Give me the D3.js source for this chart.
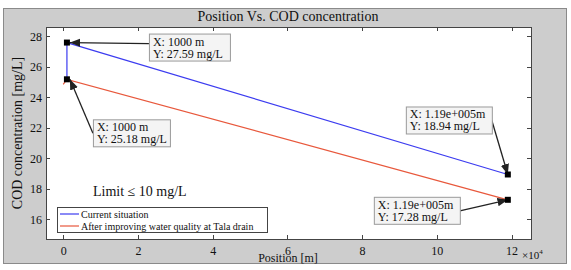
<!DOCTYPE html>
<meta charset="utf-8">
<style>
body { margin: 0; background: #fff; }
text { font-family: "Liberation Serif", "DejaVu Serif", serif; fill: #111; }
.axis path, .axis line { fill: none; stroke: #444; shape-rendering: crispEdges; }
.tick text { font-size: 12px; }
</style>
<svg width="571" height="270"></svg>
<script src="https://d3js.org/d3.v7.min.js"></script>
<script>
// values
var xTicks = [0, 2, 4, 6, 8, 10, 12];          // x 10^4 m
var yTicks = [16, 18, 20, 22, 24, 26, 28];
var currentX = [1000, 1000, 119000];
var currentY = [25.18, 27.59, 18.94];
var improvedX = [0, 1000, 119000];
var improvedY = [24.85, 25.18, 17.28];
var seriesNames = ["Current situation", "After improving water quality at Tala drain"];
var tipX = [1000, 1000, 119000, 119000];
var tipY = [27.59, 25.18, 18.94, 17.28];
var tipLabelX = ["X: 1000 m", "X: 1000 m", "X: 1.19e+005m", "X: 1.19e+005m"];
var tipLabelY = ["Y: 27.59 mg/L", "Y: 25.18 mg/L", "Y: 18.94 mg/L", "Y: 17.28 mg/L"];

var svg = d3.select("svg");
var margin = {top: 27, right: 40, bottom: 31, left: 46},
  width = 571 - margin.left - margin.right,
  height = 270 - margin.top - margin.bottom;

// figure frame
svg.append("rect").attr("x", 3.5).attr("y", 8.5).attr("width", 563).attr("height", 255)
  .attr("fill", "#cdcdcd").attr("stroke", "#8a8a8a");

var x = d3.scaleLinear().domain([-4600, 125200]).range([0, width]);
var y = d3.scaleLinear().domain([14.71, 28.61]).range([height, 0]);
var color = ["#3c3cf0", "#e8583c"];

var g = svg.append("g").attr("transform", "translate(" + margin.left + "," + margin.top + ")");
g.append("rect").attr("width", width).attr("height", height).attr("fill", "#fff");

var tx = xTicks.map(function(d) { return d * 1e4; });
g.append("g").attr("class", "axis").attr("transform", "translate(0," + height + ")")
  .call(d3.axisBottom(x).tickValues(tx).tickSizeInner(-4).tickSizeOuter(0).tickPadding(7)
    .tickFormat(function(d) { return d / 1e4; }));
g.append("g").attr("class", "axis")
  .call(d3.axisTop(x).tickValues(tx).tickSizeInner(-4).tickSizeOuter(0).tickFormat(""));
g.append("g").attr("class", "axis")
  .call(d3.axisLeft(y).tickValues(yTicks).tickSizeInner(-4).tickSizeOuter(0).tickPadding(4));
g.append("g").attr("class", "axis").attr("transform", "translate(" + width + ",0)")
  .call(d3.axisRight(y).tickValues(yTicks).tickSizeInner(-4).tickSizeOuter(0).tickFormat(""));
g.append("rect").attr("x", 0.5).attr("y", 0.5).attr("width", width).attr("height", height)
  .attr("fill", "none").attr("stroke", "#444");

var line = d3.line().x(function(d) { return x(d[0]); }).y(function(d) { return y(d[1]); });
var series = [d3.zip(currentX, currentY), d3.zip(improvedX, improvedY)];
series.forEach(function(s, i) {
  g.append("path").datum(s).attr("d", line).attr("fill", "none")
    .attr("stroke", color[i]).attr("stroke-width", 1.2);
});

// data tips
svg.append("defs").append("marker").attr("id", "ah").attr("viewBox", "0 0 10 10")
  .attr("refX", 10).attr("refY", 5).attr("markerWidth", 8).attr("markerHeight", 8)
  .attr("orient", "auto").append("path").attr("d", "M0,1L10,5L0,9Z").attr("fill", "#222");

var boxOff = [[82, -9], [26, 40], [-102, -68], [-134, -3]];   // box top-left relative to point
var boxW = [81, 77, 86, 86];
var anchor = [[0, 10], [0, 14], [86, 14], [86, 14]];
tipX.forEach(function(d, i) {
  var px = x(d), py = y(tipY[i]);
  var bx = px + boxOff[i][0], by = py + boxOff[i][1];
  g.append("line").attr("x1", bx + anchor[i][0]).attr("y1", by + anchor[i][1])
    .attr("x2", px + (anchor[i][0] ? 0 : 3)).attr("y2", py)
    .attr("stroke", "#222").attr("stroke-width", 1.3).attr("marker-end", "url(#ah)");
  g.append("rect").attr("x", px - 3).attr("y", py - 3).attr("width", 6).attr("height", 6).attr("fill", "#000");
  g.append("rect").attr("x", bx + 0.5).attr("y", by + 0.5).attr("width", boxW[i]).attr("height", 27)
    .attr("fill", "#f4f4f4").attr("stroke", "#9a9a9a");
  g.append("text").attr("x", bx + 4).attr("y", by + 12).attr("font-size", 12).text(tipLabelX[i]);
  g.append("text").attr("x", bx + 4).attr("y", by + 24).attr("font-size", 12).text(tipLabelY[i]);
});

g.append("text").attr("x", 47).attr("y", 169).attr("font-size", 14).text("Limit \u2264 10 mg/L");

// legend
var lg = g.append("g").attr("transform", "translate(11,180)");
lg.append("rect").attr("x", 0.5).attr("y", 0.5).attr("width", 210).attr("height", 25)
  .attr("fill", "#fff").attr("stroke", "#444");
seriesNames.forEach(function(n, i) {
  lg.append("line").attr("x1", 3).attr("x2", 22).attr("y1", 7 + i * 12).attr("y2", 7 + i * 12)
    .attr("stroke", color[i]).attr("stroke-width", 1.2);
  lg.append("text").attr("x", 24).attr("y", 10.5 + i * 12).attr("font-size", 10).text(n);
});

svg.append("text").attr("x", 288).attr("y", 21).attr("text-anchor", "middle")
  .attr("font-size", 14).text("Position Vs. COD concentration");
svg.append("text").attr("x", 288).attr("y", 261.5).attr("text-anchor", "middle")
  .attr("font-size", 12).text("Position [m]");
svg.append("text").attr("transform", "translate(22,133) rotate(-90)").attr("text-anchor", "middle")
  .attr("font-size", 14).text("COD concentration [mg/L]");
var sx = svg.append("text").attr("x", 522).attr("y", 259).attr("font-size", 11);
sx.append("tspan").text("\u00d710");
sx.append("tspan").attr("dy", -5).attr("font-size", 7).text("4");
</script>
